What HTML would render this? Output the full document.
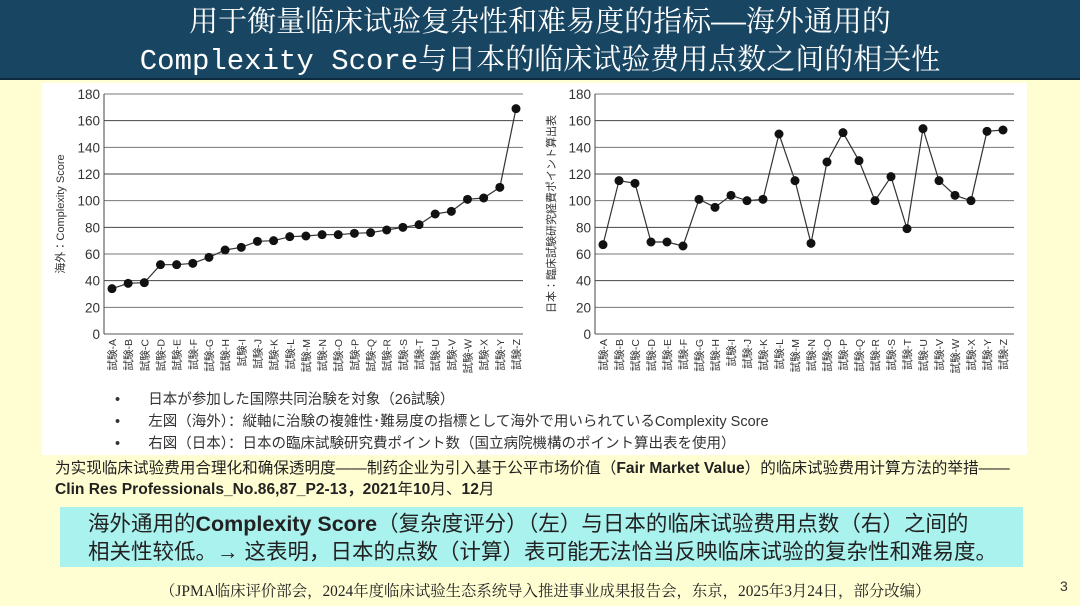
<!DOCTYPE html>
<html><head><meta charset="utf-8">
<style>
html,body{margin:0;padding:0}
body{width:1080px;height:606px;background:#fffdd2;position:relative;overflow:hidden;font-family:"Liberation Sans","Noto Sans CJK SC",sans-serif}
#title{position:absolute;left:0;top:0;width:1080px;height:80px;background:#174562;border-bottom:2px solid #0d2a3c;color:#fff;text-align:center;font-family:"Liberation Mono","Noto Serif CJK SC",serif;font-size:29px;line-height:38px;padding-top:5px;box-sizing:border-box}
#panel{position:absolute;left:42px;top:83px;width:985px;height:372px;background:#fff}
.t{position:absolute;white-space:nowrap}
#box{position:absolute;left:60px;top:507px;width:963px;height:60px;background:#aaf2ee;font-size:21.5px;line-height:28px;color:#222;padding:3px 0 0 28px;box-sizing:border-box}
</style></head><body>
<div id="title">用于衡量临床试验复杂性和难易度的指标——海外通用的<br>Complexity Score与日本的临床试验费用点数之间的相关性</div>
<div id="panel"></div>
<svg id="chart" width="1080" height="606" style="position:absolute;left:0;top:0"></svg>
<div class="t" style="left:115px;top:389px;font-size:14.5px;color:#333;line-height:22px">
<div>•&nbsp;&nbsp;&nbsp;&nbsp;&nbsp;&nbsp;&nbsp;日本が参加した国際共同治験を対象（26試験）</div>
<div>•&nbsp;&nbsp;&nbsp;&nbsp;&nbsp;&nbsp;&nbsp;左図（海外）：縦軸に治験の複雑性･難易度の指標として海外で用いられているComplexity Score</div>
<div>•&nbsp;&nbsp;&nbsp;&nbsp;&nbsp;&nbsp;&nbsp;右図（日本）：日本の臨床試験研究費ポイント数（国立病院機構のポイント算出表を使用）</div>
</div>
<div class="t" style="left:55px;top:458px;font-size:15.6px;color:#222;line-height:21px">为实现临床试验费用合理化和确保透明度——制药企业为引入基于公平市场价值（<b>Fair Market Value</b>）的临床试验费用计算方法的举措——<br><b>Clin Res Professionals_No.86,87_P2-13，2021</b>年<b>10</b>月、<b>12</b>月</div>
<div id="box">海外通用的<b>Complexity Score</b>（复杂度评分）（左）与日本的临床试验费用点数（右）之间的<br>相关性较低。→ 这表明，日本的点数（计算）表可能无法恰当反映临床试验的复杂性和难易度。</div>
<div class="t" style="left:160px;top:579px;font-size:15.4px;color:#222;font-family:'Liberation Serif','Noto Serif CJK SC',serif">（JPMA临床评价部会，2024年度临床试验生态系统导入推进事业成果报告会，东京，2025年3月24日，部分改编）</div>
<div class="t" style="left:1060px;top:578px;font-size:14px;color:#333">3</div>
<script>
const categories=["A","B","C","D","E","F","G","H","I","J","K","L","M","N","O","P","Q","R","S","T","U","V","W","X","Y","Z"];
const overseasScores=[34,38,38.5,52,52,53,57.5,63,65,69.5,70,73,73.5,74.5,74.5,75.5,76,78,80,82,90,92,101,102,110,169];
const japanPoints=[67,115,113,69,69,66,101,95,104,100,101,150,115,68,129,151,130,100,118,79,154,115,104,100,152,153];
const yTicks=[0,20,40,60,80,100,120,140,160,180];
const NS="http://www.w3.org/2000/svg";
const svg=document.getElementById('chart');
function mk(t,a,p){const e=document.createElementNS(NS,t);for(const k in a)e.setAttribute(k,a[k]);(p||svg).appendChild(e);return e;}
function drawChart(key,x0,x1,firstX,lastX,values,ytitle){
  const yTop=94,yBot=334;
  const y=v=>yBot-(v/180)*(yBot-yTop);
  const x=i=>firstX+i*(lastX-firstX)/(categories.length-1);
  const g=mk('g',{});
  
  
  yTicks.forEach(t=>{
    const l=mk('line',{x1:x0,x2:x1,y1:y(t),y2:y(t),stroke:t%40==0&&t>0?'#444':'#777','stroke-width':t==0?1.2:1},g);
    
    
    const tx=mk('text',{x:x0-4,y:y(t)+5,'text-anchor':'end','font-size':13.5,fill:'#333','font-family':'Liberation Sans,sans-serif'},g);
    tx.textContent=t;
    
    
  });
  const ax=mk('line',{x1:x0,x2:x0,y1:yTop,y2:yBot,stroke:'#444'},g);
  
  
  const yt=mk('text',{transform:`translate(${x0-40},${(yTop+yBot)/2}) rotate(-90)`,'text-anchor':'middle','font-size':11,fill:'#333','font-family':'Liberation Sans,Noto Sans CJK JP,sans-serif'},g);
  yt.textContent=ytitle;
  
  
  categories.forEach((c,i)=>{
    const t=mk('text',{transform:`translate(${x(i)+4},${yBot+5}) rotate(-90)`,'text-anchor':'end','font-size':10.5,fill:'#333','font-family':'Liberation Sans,Noto Sans CJK JP,sans-serif'},g);
    t.textContent='試験-'+c;
    
    
  });
  const pl=mk('polyline',{points:values.map((v,i)=>x(i)+','+y(v)).join(' '),fill:'none',stroke:'#333','stroke-width':1.2},g);
  
  
  values.forEach((v,i)=>{
    const c=mk('circle',{cx:x(i),cy:y(v),r:4.5,fill:'#111'},g);
    
    
  });
}
drawChart('overseas',104,523,112,516,overseasScores,'海外：Complexity Score');
drawChart('japan',595,1014,603,1003,japanPoints,'日本：臨床試験研究経費ポイント算出表');
</script>
</body></html>
